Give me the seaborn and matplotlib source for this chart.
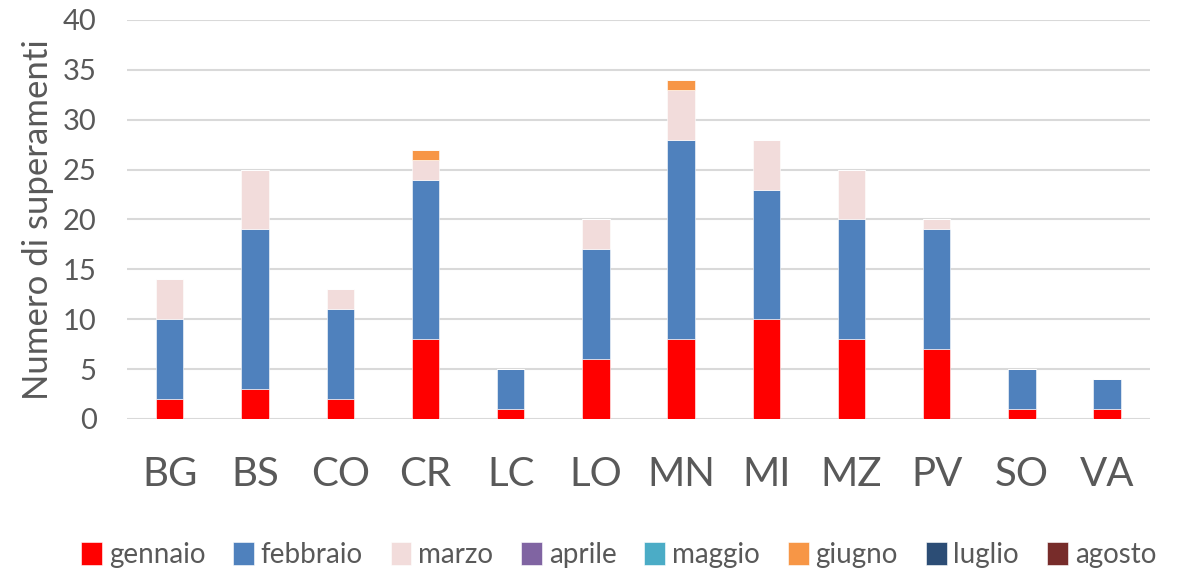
import pandas as pd
import matplotlib.pyplot as plt
import seaborn as sns
import numpy as np

provinces = ['BG', 'BS', 'CO', 'CR', 'LC', 'LO', 'MN', 'MI', 'MZ', 'PV', 'SO', 'VA']
months = ['gennaio', 'febbraio', 'marzo', 'aprile', 'maggio', 'giugno', 'luglio', 'agosto']

gennaio = [2, 3, 2, 8, 1, 6, 8, 10, 8, 7, 1, 1]
febbraio = [8, 16, 9, 16, 4, 11, 20, 13, 12, 12, 4, 3]
marzo = [4, 6, 2, 2, 0, 3, 5, 5, 5, 1, 0, 0]
aprile = [0] * 12
maggio = [0] * 12
giugno = [0, 0, 0, 1, 0, 0, 1, 0, 0, 0, 0, 0]
luglio = [0] * 12
agosto = [0] * 12

colors = ['#FF0000', '#4F81BD', '#F2DCDB', '#8064A2', '#4BACC6', '#F79646', '#2C4D75', '#772C2A']

df = pd.DataFrame({'provincia': provinces, 'gennaio': gennaio, 'febbraio': febbraio,
                   'marzo': marzo, 'aprile': aprile, 'maggio': maggio,
                   'giugno': giugno, 'luglio': luglio, 'agosto': agosto})

sns.set_style('white')
plt.rcParams['font.family'] = ['Lato', 'DejaVu Sans']

fig = plt.figure(figsize=(11.78, 5.70), dpi=100)
ax = fig.add_axes([0.108, 0.265, 0.868, 0.70])

# stacked bars, one month at a time
bottom = np.zeros(len(provinces))
for m, c in zip(months, colors):
    sns.barplot(data=df, x='provincia', y=m, color=c, bottom=bottom, width=0.32,
                saturation=1, edgecolor='white', linewidth=0.4, ax=ax, label=m, zorder=3)
    bottom = bottom + df[m].values

ax.set_ylim(0, 40)
ax.set_yticks(range(0, 41, 5))
ax.grid(axis='y', color='#D9D9D9', linewidth=1.5, zorder=0)
ax.set_axisbelow(True)
for s in ax.spines.values():
    s.set_visible(False)
ax.tick_params(axis='both', length=0, colors='#595959')
ax.tick_params(axis='y', labelsize=21, pad=22)
ax.tick_params(axis='x', labelsize=29, pad=27)
ax.set_xlabel('')
ax.set_ylabel('Numero di superamenti', fontsize=25, color='#595959', labelpad=6)

handles, labels = ax.get_legend_handles_labels()
ax.get_legend().remove()
fig.legend(handles, labels, loc='lower center', bbox_to_anchor=(0.525, -0.04), ncol=8,
           frameon=False, fontsize=20, handlelength=0.75, handleheight=0.9,
           handletextpad=0.25, columnspacing=1.0, labelcolor='#595959')

fig.savefig('out.png', dpi=100)
